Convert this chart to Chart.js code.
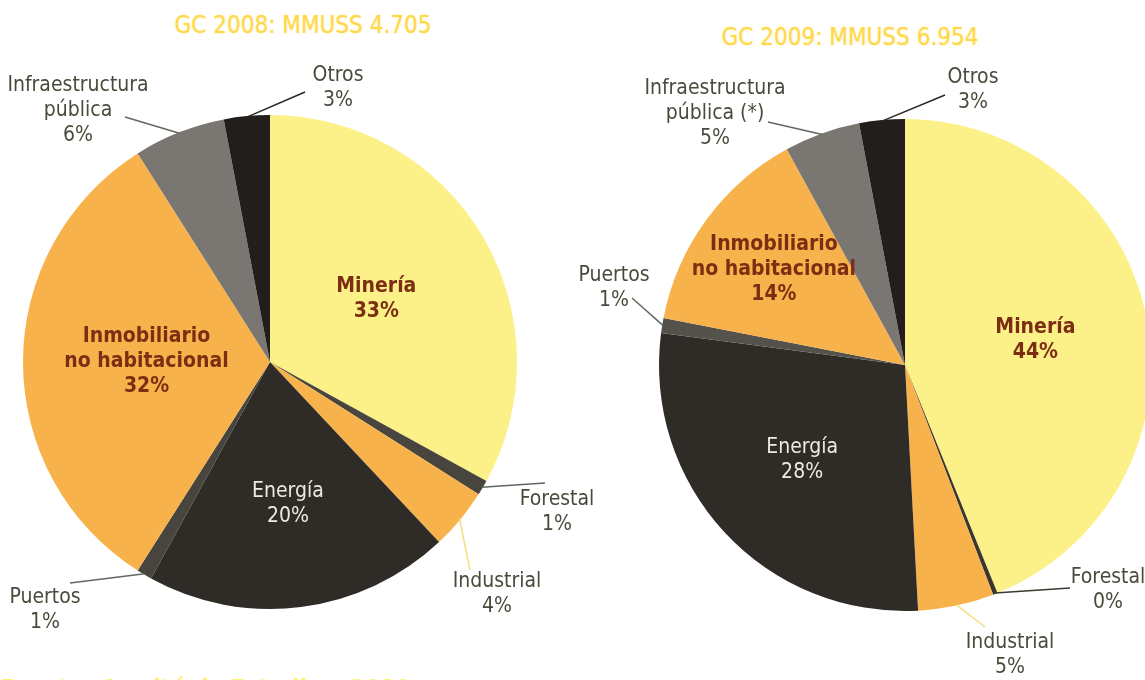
<!DOCTYPE html>
<html lang="es">
<head>
<meta charset="utf-8">
<title>GC 2008 / GC 2009</title>
<script src="https://cdn.jsdelivr.net/npm/chart.js@4.4.1/dist/chart.umd.min.js"></script>
<style>
  html, body { margin: 0; padding: 0; background: #fff; width: 1145px; height: 680px; overflow: hidden; }
  body { position: relative; font-family: "Liberation Sans Narrow", "DejaVu Sans Condensed", "Roboto", sans-serif; }
  canvas { position: absolute; top: 0; }
  #grafico2008 { left: 0; }
  #grafico2009 { left: 573px; }
  .titulo { position: absolute; color: #FFD84A; font-size: 24px; white-space: nowrap; transform: translateX(-50%);
            text-shadow: 0 0 2px rgba(255, 220, 80, 0.6); }
  #titulo2008 { left: 303px; top: 11px; }
  #titulo2009 { left: 850px; top: 23px; }
  #fuente { position: absolute; left: 0; top: 675px; color: #FFF36A; font-size: 24px; font-weight: bold; white-space: nowrap; }
</style>
</head>
<body>
<div class="titulo" id="titulo2008">GC 2008: MMUSS 4.705</div>
<div class="titulo" id="titulo2009">GC 2009: MMUSS 6.954</div>
<canvas id="grafico2009" width="600" height="680"></canvas>
<canvas id="grafico2008" width="620" height="680"></canvas>
<div id="fuente">Fuente: Comité de Estudios, 2010</div>
<script>
// Datos //
const sectores = ['Minería', 'Forestal', 'Industrial', 'Energía', 'Puertos', 'Inmobiliario no habitacional', 'Infraestructura pública', 'Otros'];
const valores2008 = [33, 1, 4, 20, 1, 32, 6, 3];
const valores2009 = [44, 0.3, 5, 28, 1, 14, 5, 3];

const textos2008 = [['Minería'], ['Forestal'], ['Industrial'], ['Energía'], ['Puertos'], ['Inmobiliario', 'no habitacional'], ['Infraestructura', 'pública'], ['Otros']];
const textos2009 = [['Minería'], ['Forestal'], ['Industrial'], ['Energía'], ['Puertos'], ['Inmobiliario', 'no habitacional'], ['Infraestructura', 'pública (*)'], ['Otros']];

// Estilos //
const colores2008 = ['#FCF088', '#48443E', '#F8B24C', '#2F2B27', '#48443E', '#F8B24C', '#7A7772', '#221E1B'];
const colores2009 = ['#FCF088', '#3A352F', '#F8B24C', '#2F2B27', '#55514B', '#F8B24C', '#7A7772', '#221E1B'];

// Colocación de etiquetas (relativa al centro de la torta)
const colocacion2008 = [
  { tipo: 'in', f: 0.5, color: '#7B2E12', peso: 'bold' },
  { tipo: 'out', dx: 287, dy: 150, lx: 275, ly: 121, linea: '#5E6A5C' },
  { tipo: 'out', dx: 227, dy: 232, lx: 200, ly: 208, linea: '#F3E07A' },
  { tipo: 'in', f: 0.58, color: '#EFEADC', peso: 'normal' },
  { tipo: 'out', dx: -225, dy: 248, lx: -200, ly: 221, linea: '#5E6A5C' },
  { tipo: 'in', f: 0.5, color: '#7B2E12', peso: 'bold' },
  { tipo: 'out', dx: -192, dy: -251, lx: -145, ly: -245, linea: '#5E6A5C' },
  { tipo: 'out', dx: 68, dy: -274, lx: 35, ly: -270, linea: '#2A2622' }
];
const colocacion2009 = [
  { tipo: 'in', f: 0.54, color: '#7B2E12', peso: 'bold' },
  { tipo: 'out', dx: 203, dy: 225, lx: 165, ly: 223, linea: '#3A3A30' },
  { tipo: 'out', dx: 105, dy: 290, lx: 80, ly: 262, linea: '#F3E07A' },
  { tipo: 'in', f: 0.57, color: '#EFEADC', peso: 'normal' },
  { tipo: 'out', dx: -291, dy: -77, lx: -273, ly: -67, linea: '#5E6A5C' },
  { tipo: 'in', f: 0.66, color: '#7B2E12', peso: 'bold' },
  { tipo: 'out', dx: -190, dy: -251, lx: -137, ly: -243, linea: '#5E6A5C' },
  { tipo: 'out', dx: 68, dy: -275, lx: 40, ly: -270, linea: '#2A2622' }
];

const FUENTE = '"Liberation Sans Narrow", "DejaVu Sans Condensed", "Roboto", sans-serif';

// Plugin que dibuja las etiquetas y líneas guía
const pluginEtiquetas = {
  id: 'etiquetas',
  afterDatasetsDraw(chart, args, opts) {
    const ctx = chart.ctx;
    const arcos = chart.getDatasetMeta(0).data;
    const valores = chart.data.datasets[0].data;
    ctx.save();
    ctx.textAlign = 'center';
    ctx.textBaseline = 'middle';
    arcos.forEach((arco, i) => {
      const c = opts.colocacion[i];
      const lineas = opts.textos[i].concat([Math.round(valores[i]) + '%']);
      const medio = (arco.startAngle + arco.endAngle) / 2;
      const cx = arco.x, cy = arco.y, r = arco.outerRadius;
      let tx, ty;
      if (c.tipo === 'in') {
        tx = cx + Math.cos(medio) * r * c.f;
        ty = cy + Math.sin(medio) * r * c.f;
        ctx.fillStyle = c.color;
        ctx.font = c.peso + ' 21px ' + FUENTE;
      } else {
        const x0 = cx + Math.cos(medio) * (r - 1);
        const y0 = cy + Math.sin(medio) * (r - 1);
        ctx.strokeStyle = c.linea;
        ctx.lineWidth = 1.5;
        ctx.beginPath();
        ctx.moveTo(x0, y0);
        ctx.lineTo(cx + c.lx, cy + c.ly);
        ctx.stroke();
        tx = cx + c.dx;
        ty = cy + c.dy;
        ctx.fillStyle = '#4A4A3C';
        ctx.font = 'normal 21px ' + FUENTE;
      }
      const alto = 25;
      const inicio = ty - (lineas.length - 1) * alto / 2;
      lineas.forEach((t, k) => ctx.fillText(t, tx, inicio + k * alto));
    });
    ctx.restore();
  }
};

function crearTorta(id, valores, colores, textos, colocacion, padding) {
  return new Chart(document.getElementById(id).getContext('2d'), {
    type: 'pie',
    data: {
      labels: sectores,
      datasets: [{ data: valores, backgroundColor: colores, borderWidth: 0 }]
    },
    options: {
      responsive: false,
      animation: false,
      layout: { padding: padding },
      plugins: {
        legend: { display: false },
        tooltip: { enabled: false },
        etiquetas: { textos: textos, colocacion: colocacion }
      }
    },
    plugins: [pluginEtiquetas]
  });
}

crearTorta('grafico2008', valores2008, colores2008, textos2008, colocacion2008, { left: 23, right: 103, top: 115, bottom: 71 });
crearTorta('grafico2009', valores2009, colores2009, textos2009, colocacion2009, { left: 86, right: 22, top: 119, bottom: 69 });
</script>
</body>
</html>
